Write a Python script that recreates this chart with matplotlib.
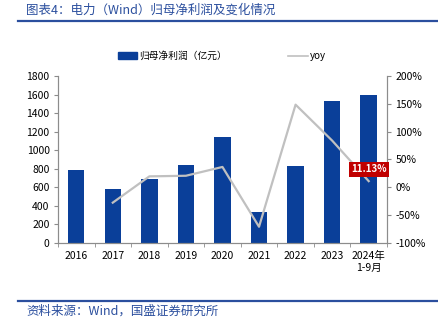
import numpy as np
import matplotlib
matplotlib.use("Agg")
import matplotlib.pyplot as plt
from matplotlib.lines import Line2D
from matplotlib.patches import Patch

plt.rcParams['font.family'] = ['Noto Sans CJK SC', 'DejaVu Sans']

years = ['2016', '2017', '2018', '2019', '2020', '2021', '2022', '2023', '2024年\n1-9月']
profit = [787, 579, 693, 837, 1143, 334, 830, 1527, 1595]
yoy = [np.nan, -27.5, 19.7, 20.8, 36.6, -70.8, 148.5, 84.0, 11.13]

bar_color = '#0a3f99'
line_color = '#c0c0c0'
axis_color = '#8c8c8c'
title_color = '#2b4f9e'

fig = plt.figure(figsize=(4.39, 3.29), dpi=100)
ax = fig.add_axes([0.132, 0.2614, 0.7495, 0.5076])
ax2 = ax.twinx()

x = np.arange(len(years))
ax.bar(x, profit, width=0.45, color=bar_color, zorder=2)
ax2.plot(x, yoy, color=line_color, lw=1.6, zorder=3)

ax.set_xlim(-0.5, len(years) - 0.5)
ax.set_ylim(0, 1800)
ax.set_yticks(range(0, 1801, 200))
ax2.set_ylim(-100, 200)
ax2.set_yticks(range(-100, 201, 50))
ax2.set_yticklabels([f'{v}%' for v in range(-100, 201, 50)])

ax.set_xticks(x)
ax.set_xticklabels(years)
ax.set_xticks(np.arange(-0.5, len(years), 1), minor=True)
ax.tick_params(axis='x', which='major', length=0, pad=6)
ax.tick_params(axis='x', which='minor', length=3, color=axis_color)
ax.tick_params(axis='y', length=3, color=axis_color, pad=3)
ax2.tick_params(axis='y', length=3, color=axis_color, pad=3)
for a in (ax, ax2):
    a.tick_params(labelsize=7.5, labelcolor='#000000')
    a.spines['top'].set_visible(False)
    for s in ('left', 'right', 'bottom'):
        a.spines[s].set_color(axis_color)
        a.spines[s].set_linewidth(0.8)

# highlight last yoy value
ax2.annotate(f'{yoy[-1]:.2f}%', xy=(x[-1], yoy[-1]), xytext=(0, 5),
             textcoords='offset points', ha='center', va='bottom',
             fontsize=7, fontweight='bold', color='white',
             bbox=dict(boxstyle='square,pad=0.25', fc='#c00000', ec='none'),
             zorder=5)

handles = [Patch(color=bar_color), Line2D([], [], color=line_color, lw=1.2)]
fig.legend(handles, ['归母净利润（亿元）', 'yoy'], loc='center',
           bbox_to_anchor=(0.505, 0.83), ncol=2, frameon=False,
           fontsize=7, columnspacing=6.3, handlelength=2.0, handletextpad=0.2)

# header and footer
fig.text(0.06, 0.99, '图表4：电力（Wind）归母净利润及变化情况', ha='left', va='top',
         fontsize=9, color=title_color, style='italic')
fig.add_artist(Line2D([0.04, 0.995], [0.935, 0.935], color=title_color, lw=1.6))
fig.add_artist(Line2D([0.04, 0.995], [0.085, 0.085], color=title_color, lw=1.6))
fig.text(0.06, 0.055, '资料来源：Wind，国盛证券研究所', ha='left', va='center',
         fontsize=9, color=title_color, style='italic')

fig.savefig('out.png', dpi=100)
plt.close(fig)
